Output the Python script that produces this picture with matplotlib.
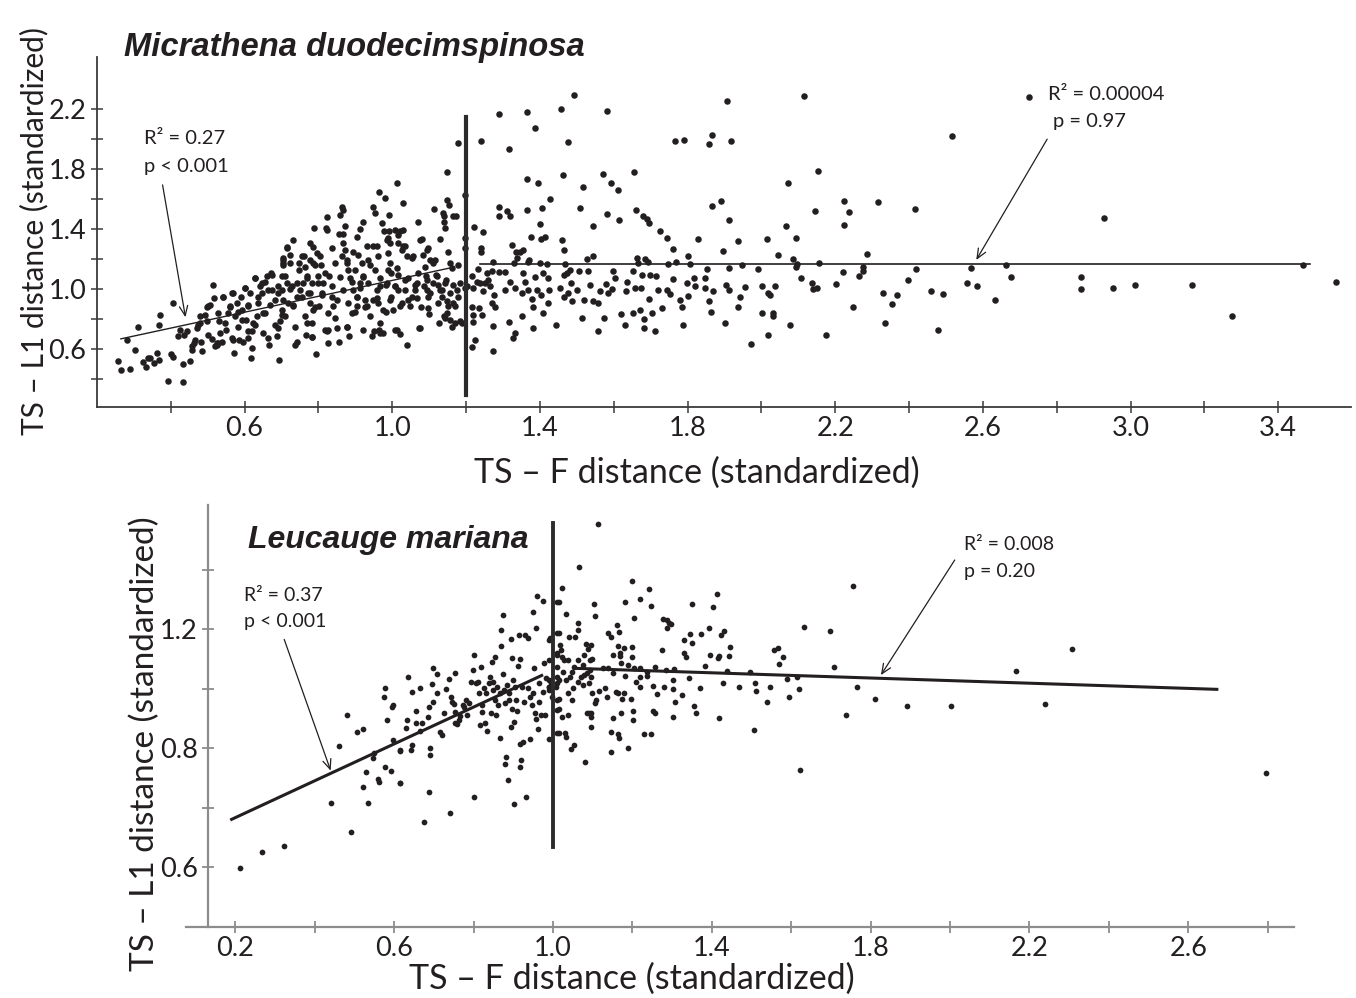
"""
Breakpoint scatter plots: TS-L1 vs TS-F distance (standardized)
for Micrathena duodecimspinosa (top) and Leucauge mariana (bottom).
"""

import numpy as np
import matplotlib
matplotlib.use("Agg")
import matplotlib.pyplot as plt
from matplotlib.ticker import FixedLocator, FixedFormatter

# ─────────────────────────────────────────────────────────────────────────────
# Data
# ─────────────────────────────────────────────────────────────────────────────

# Micrathena, TS-F < 1.2
micr_low = np.array([
    (0.256, 0.518), (0.265, 0.462), (0.291, 0.469), (0.283, 0.658), (0.302, 0.593),
    (0.312, 0.745), (0.324, 0.513), (0.333, 0.478), (0.338, 0.540), (0.344, 0.540),
    (0.356, 0.507), (0.362, 0.573), (0.367, 0.529), (0.371, 0.825), (0.369, 0.762),
    (0.394, 0.389), (0.401, 0.569), (0.405, 0.551), (0.406, 0.911), (0.421, 0.685),
    (0.425, 0.729), (0.432, 0.500), (0.432, 0.380), (0.437, 0.696), (0.443, 0.718),
    (0.453, 0.518), (0.457, 0.596), (0.459, 0.618), (0.462, 0.640), (0.466, 0.662),
    (0.470, 0.740), (0.475, 0.762), (0.479, 0.773), (0.486, 0.585), (0.482, 0.651),
    (0.493, 0.829), (0.498, 0.785), (0.500, 0.696), (0.502, 0.891), (0.507, 0.896),
    (0.513, 0.667), (0.514, 1.029), (0.517, 0.940), (0.520, 0.618), (0.525, 0.629),
    (0.529, 0.640), (0.531, 0.791), (0.534, 0.707), (0.538, 0.651), (0.543, 0.951),
    (0.547, 0.773), (0.550, 0.729), (0.556, 0.840), (0.561, 0.885), (0.565, 0.673),
    (0.567, 0.973), (0.572, 0.573), (0.574, 0.818), (0.579, 0.907), (0.583, 0.751),
    (0.585, 0.662), (0.590, 0.951), (0.592, 0.862), (0.597, 0.651), (0.600, 1.007),
    (0.604, 0.796), (0.609, 0.718), (0.610, 0.885), (0.615, 0.973), (0.617, 0.540),
    (0.619, 0.607), (0.621, 0.718), (0.627, 1.074), (0.628, 0.762), (0.633, 0.818),
    (0.637, 0.907), (0.642, 1.018), (0.647, 0.973), (0.651, 0.840), (0.656, 1.051),
    (0.660, 1.085), (0.663, 0.673), (0.665, 0.629), (0.669, 0.896), (0.674, 1.096),
    (0.675, 0.996), (0.683, 0.762), (0.687, 0.685), (0.690, 0.973), (0.694, 0.525),
    (0.701, 1.085), (0.705, 1.162), (0.705, 1.207),
    (0.737, 0.625), (0.743, 0.647), (0.732, 1.325), (0.716, 1.280), (0.705, 1.196),
    (0.723, 1.174), (0.710, 1.085), (0.701, 0.996), (0.714, 1.040), (0.728, 1.018),
    (0.705, 0.929), (0.719, 0.907), (0.701, 0.862), (0.710, 0.818), (0.696, 0.785),
    (0.732, 0.885), (0.741, 0.951), (0.750, 0.996), (0.759, 1.040), (0.768, 1.085),
    (0.755, 1.222), (0.761, 1.222), (0.748, 1.174), (0.764, 1.151), (0.777, 1.196),
    (0.786, 1.278), (0.789, 1.407), (0.791, 1.162), (0.795, 1.240), (0.804, 1.222),
    (0.806, 1.162), (0.800, 1.085), (0.782, 1.040), (0.773, 0.973), (0.777, 0.907),
    (0.786, 0.862), (0.768, 0.773), (0.766, 0.696), (0.784, 0.773), (0.784, 0.678),
    (0.794, 0.569), (0.803, 0.885), (0.809, 0.973), (0.813, 1.040), (0.821, 1.407),
    (0.824, 1.480), (0.819, 0.729), (0.824, 0.718), (0.827, 0.640), (0.836, 1.273),
    (0.830, 1.085), (0.836, 0.951), (0.840, 0.885), (0.845, 0.807), (0.851, 0.740),
    (0.857, 0.651), (0.859, 1.496), (0.863, 1.547), (0.868, 1.529), (0.857, 1.369),
    (0.868, 1.369), (0.872, 1.422), (0.863, 1.218), (0.872, 1.262), (0.877, 1.174),
    (0.881, 1.129), (0.886, 1.074), (0.877, 0.751), (0.884, 0.685), (0.890, 0.840),
    (0.899, 0.851), (0.904, 0.885), (0.895, 0.996), (0.904, 0.951), (0.913, 1.040),
    (0.893, 1.251), (0.906, 1.229), (0.913, 1.402), (0.922, 1.445), (0.917, 1.174),
    (0.922, 1.085), (0.931, 1.285), (0.935, 1.196), (0.926, 0.929), (0.933, 0.885),
    (0.940, 0.818), (0.944, 0.685), (0.947, 1.551), (0.953, 1.507), (0.958, 1.285),
    (0.962, 1.218), (0.953, 1.129), (0.965, 1.649), (0.967, 1.018), (0.958, 0.940),
    (0.962, 0.907), (0.967, 0.773), (0.951, 0.718), (0.965, 0.729), (0.976, 0.707),
    (0.971, 1.440), (0.980, 1.607), (0.979, 1.391), (0.985, 1.329), (0.991, 1.496),
    (0.992, 1.389), (0.994, 1.307), (0.989, 1.240), (0.994, 1.174), (0.998, 1.107),
    (0.985, 1.040), (0.994, 0.929), (1.003, 0.862), (0.983, 0.851), (1.008, 1.396),
    (1.012, 1.707), (1.017, 1.362), (1.021, 1.385), (1.028, 1.396), (1.017, 1.307),
    (1.026, 1.262), (1.014, 1.140), (1.008, 1.018), (1.017, 0.996), (1.021, 0.885),
    (1.012, 0.729), (1.021, 0.702), (1.030, 1.573), (1.035, 1.285), (1.039, 1.218),
    (1.035, 1.062), (1.044, 0.929), (1.048, 0.885), (1.039, 0.629), (1.053, 1.207),
    (1.057, 1.218), (1.062, 0.996), (1.066, 1.040), (1.071, 1.451), (1.066, 0.940),
    (1.073, 0.740), (1.080, 1.333), (1.084, 1.229), (1.093, 1.262), (1.098, 1.273),
    (1.102, 1.196), (1.089, 1.151), (1.092, 1.085), (1.093, 0.996), (1.098, 0.951),
    (1.098, 0.873), (1.101, 0.836), (1.111, 1.174), (1.114, 1.533), (1.120, 1.085),
    (1.125, 1.029), (1.129, 1.333), (1.129, 0.996), (1.134, 0.951), (1.128, 0.773),
    (1.137, 1.507), (1.139, 1.485), (1.140, 1.451), (1.143, 1.407), (1.148, 1.782),
    (1.149, 1.596), (1.152, 1.251), (1.146, 1.062), (1.148, 0.918), (1.152, 0.885),
    (1.155, 1.562), (1.161, 1.140), (1.139, 0.818), (1.143, 0.807), (1.157, 0.796),
    (1.161, 0.751), (1.166, 0.907), (1.166, 1.485), (1.173, 1.485), (1.170, 0.885),
    (1.175, 0.996), (1.179, 1.162), (1.184, 0.785), (1.179, 1.973),
    (0.479, 0.818), (0.497, 0.884), (0.529, 0.840), (0.543, 0.951), (0.561, 0.884),
    (0.570, 0.973), (0.583, 0.851), (0.592, 0.796), (0.601, 1.007), (0.610, 0.896),
    (0.624, 0.773), (0.628, 1.073), (0.637, 0.951), (0.646, 1.040), (0.655, 0.840),
    (0.664, 0.996), (0.673, 1.107), (0.683, 0.929), (0.692, 1.018), (0.701, 0.829),
    (0.705, 1.173), (0.714, 1.273), (0.723, 1.000), (0.732, 0.896), (0.741, 1.040),
    (0.748, 1.129), (0.755, 0.951), (0.764, 0.818), (0.768, 1.073), (0.777, 0.973),
    (0.786, 1.173), (0.791, 0.884), (0.800, 1.040), (0.809, 0.962), (0.818, 1.107),
    (0.827, 0.840), (0.836, 1.018), (0.845, 1.173), (0.851, 0.929), (0.859, 1.084),
    (0.868, 0.996), (0.877, 1.196), (0.881, 0.907), (0.890, 1.051), (0.899, 1.129),
    (0.904, 0.951), (0.913, 1.007), (0.922, 1.084), (0.926, 0.884), (0.935, 1.040),
    (0.940, 1.162), (0.949, 0.929), (0.958, 0.996), (0.967, 1.073), (0.974, 0.862),
    (0.983, 1.029), (0.989, 1.129), (0.998, 0.951), (1.008, 1.018), (1.017, 1.096),
    (1.026, 0.907), (1.035, 0.996), (1.044, 1.073), (1.053, 0.951), (1.062, 1.029),
    (1.071, 1.107), (1.077, 0.884), (1.086, 1.018), (1.095, 1.062), (1.102, 0.973),
    (1.111, 1.040), (1.119, 1.096), (1.125, 0.907), (1.134, 0.996), (1.143, 1.040),
    (1.148, 0.840), (1.157, 0.973), (1.166, 1.029), (1.170, 0.773), (1.179, 0.951),
    (1.184, 1.040), (1.188, 0.773),
    (0.525, 0.640), (0.570, 0.662), (0.610, 0.673), (0.651, 0.707), (0.692, 0.740),
    (0.737, 0.751), (0.782, 0.684), (0.827, 0.729), (0.877, 0.751), (0.922, 0.729),
    (0.967, 0.707), (1.008, 0.729), (1.075, 0.740),
    (0.723, 1.229), (0.777, 1.307), (0.823, 1.396), (0.868, 1.307), (0.904, 1.351),
    (0.949, 1.285), (0.989, 1.340), (1.030, 1.285), (1.075, 1.329), (1.116, 1.196),
    (1.157, 1.173),
])

# Micrathena, TS-F >= 1.2
micr_high = np.array([
    (1.197, 1.625), (1.197, 1.340), (1.197, 1.273), (1.197, 1.007), (1.202, 1.018),
    (1.215, 0.613), (1.224, 0.658), (1.220, 0.778), (1.215, 0.884), (1.220, 0.829),
    (1.218, 1.007), (1.222, 1.413), (1.215, 1.089), (1.233, 1.133), (1.229, 1.051),
    (1.236, 0.873), (1.242, 0.829), (1.238, 1.044), (1.245, 1.382), (1.241, 1.991),
    (1.241, 1.273), (1.240, 1.251), (1.247, 0.985), (1.251, 1.044), (1.256, 1.107),
    (1.260, 1.062), (1.265, 1.018), (1.269, 1.118), (1.274, 1.178), (1.269, 0.911),
    (1.276, 0.962), (1.278, 0.884), (1.274, 0.756), (1.274, 0.591), (1.288, 2.169),
    (1.288, 1.551), (1.289, 1.485), (1.290, 1.113), (1.306, 1.113), (1.306, 0.996),
    (1.310, 1.518), (1.315, 1.933), (1.319, 1.485), (1.319, 1.051), (1.316, 0.782),
    (1.325, 1.296), (1.326, 0.673), (1.333, 0.707), (1.330, 1.173), (1.335, 1.251),
    (1.333, 1.007), (1.337, 1.207), (1.346, 1.245), (1.351, 0.973), (1.352, 0.822),
    (1.355, 1.262), (1.355, 1.107), (1.360, 1.051), (1.364, 1.529), (1.366, 2.184),
    (1.366, 1.733), (1.369, 1.184), (1.369, 0.996), (1.371, 1.196), (1.376, 1.345),
    (1.378, 0.933), (1.380, 0.884), (1.382, 0.740), (1.386, 2.073), (1.387, 1.084),
    (1.391, 0.996), (1.394, 1.711), (1.399, 1.436), (1.400, 1.173), (1.402, 0.962),
    (1.402, 1.333), (1.407, 1.540), (1.408, 1.107), (1.409, 0.840), (1.414, 1.351),
    (1.418, 1.169), (1.423, 1.073), (1.426, 0.996), (1.427, 1.600), (1.423, 0.907),
    (1.444, 0.758), (1.455, 1.007), (1.456, 2.202), (1.459, 1.329), (1.462, 1.760),
    (1.464, 1.258), (1.465, 1.096), (1.468, 1.169), (1.466, 0.947), (1.473, 1.107),
    (1.477, 1.984), (1.477, 0.973), (1.482, 1.129), (1.483, 1.044), (1.486, 0.918),
    (1.492, 2.293), (1.500, 0.996), (1.507, 1.124), (1.510, 1.544), (1.513, 0.807),
    (1.516, 1.684), (1.519, 0.929), (1.527, 1.200), (1.531, 1.124), (1.536, 1.029),
    (1.543, 1.222), (1.545, 1.418), (1.545, 0.918), (1.558, 0.907), (1.558, 0.722),
    (1.563, 0.991), (1.572, 1.769), (1.574, 0.811), (1.579, 1.036), (1.583, 1.502),
    (1.583, 2.191), (1.585, 0.973), (1.592, 1.711), (1.594, 1.000), (1.599, 1.118),
    (1.604, 1.073), (1.611, 1.658), (1.615, 1.462), (1.620, 0.836), (1.631, 0.762),
    (1.633, 0.991), (1.637, 1.051), (1.651, 1.122), (1.651, 0.844), (1.656, 1.784),
    (1.658, 1.007), (1.660, 1.529), (1.662, 1.207), (1.667, 1.173), (1.671, 0.862),
    (1.673, 1.007), (1.676, 1.096), (1.680, 1.485), (1.682, 0.800), (1.682, 0.740),
    (1.685, 1.200), (1.689, 1.467), (1.694, 1.184), (1.696, 1.444), (1.696, 0.933),
    (1.698, 1.096), (1.703, 0.840), (1.712, 0.722), (1.715, 1.089), (1.721, 0.996),
    (1.725, 1.385), (1.730, 0.873), (1.743, 1.340), (1.743, 0.996), (1.748, 1.169),
    (1.752, 0.969), (1.760, 1.267), (1.760, 1.067), (1.766, 1.991), (1.768, 1.178),
    (1.780, 0.929), (1.786, 0.880), (1.787, 0.758), (1.789, 1.996), (1.798, 1.044),
    (1.800, 0.956), (1.802, 1.222), (1.807, 1.169), (1.817, 1.073), (1.820, 1.022),
    (1.829, 1.336), (1.847, 1.073), (1.847, 1.007), (1.852, 1.133), (1.858, 0.918),
    (1.859, 1.967), (1.864, 0.847), (1.865, 2.029), (1.865, 1.556), (1.868, 0.991),
    (1.891, 1.589), (1.895, 1.256), (1.901, 0.773), (1.904, 1.029), (1.906, 2.256),
    (1.911, 0.996), (1.913, 1.462), (1.913, 1.140), (1.917, 1.989), (1.936, 1.318),
    (1.936, 0.884), (1.942, 0.951), (1.948, 1.162), (1.955, 1.013), (1.972, 0.636),
    (1.992, 1.133), (2.001, 1.018), (2.001, 0.844), (2.014, 1.336), (2.017, 0.973),
    (2.019, 0.696), (2.022, 0.962), (2.031, 0.818), (2.032, 0.840), (2.037, 1.022),
    (2.044, 1.229), (2.066, 1.422), (2.073, 1.711), (2.078, 0.762), (2.085, 1.200),
    (2.094, 1.340), (2.094, 1.147), (2.097, 1.169), (2.106, 1.073), (2.116, 2.291),
    (2.136, 1.040), (2.139, 1.000), (2.145, 1.518), (2.150, 1.007), (2.152, 1.789),
    (2.156, 1.173), (2.174, 0.693), (2.202, 1.036), (2.222, 1.113), (2.224, 1.429),
    (2.225, 1.591), (2.237, 1.513), (2.249, 0.878), (2.264, 1.089), (2.276, 1.118),
    (2.276, 1.151), (2.287, 1.236), (2.317, 1.578), (2.329, 0.973), (2.335, 0.773),
    (2.355, 0.900), (2.366, 0.960),
    (2.725, 2.280), (2.515, 2.018), (2.416, 1.536), (2.928, 1.473), (2.419, 1.136),
    (2.397, 1.062), (2.459, 0.991), (2.493, 0.967), (2.479, 0.727), (2.558, 1.040),
    (2.568, 1.140), (2.585, 1.018), (2.632, 0.925), (2.662, 1.158), (2.675, 1.084),
    (2.865, 1.078), (2.865, 0.998), (2.953, 1.009), (3.012, 1.031), (3.166, 1.027),
    (3.274, 0.822), (3.468, 1.162), (3.556, 1.051),
])

micr_break = 1.2
micr_break_span = [0.295, 2.147]
micr_fit_left_x, micr_fit_left_y = [0.265, 1.167], [0.669, 1.147]
micr_fit_right_x, micr_fit_right_y = [1.239, 3.486], [1.169, 1.169]

# Leucauge, TS-F < 1.0
leuc_low = np.array([
    (0.212, 0.396), (0.268, 0.451), (0.323, 0.473), (0.442, 0.615), (0.460, 0.809),
    (0.482, 0.912), (0.492, 0.520), (0.506, 0.855), (0.522, 0.865), (0.522, 0.669),
    (0.530, 0.720), (0.535, 0.615), (0.547, 0.766), (0.550, 0.783), (0.558, 0.697),
    (0.562, 0.688), (0.574, 0.974), (0.578, 1.002), (0.576, 0.736), (0.582, 0.895),
    (0.594, 0.940), (0.598, 0.946), (0.592, 0.725), (0.596, 0.828), (0.614, 0.791),
    (0.614, 0.684),
    (0.614, 0.794), (0.614, 0.682), (0.630, 0.867), (0.634, 1.039), (0.632, 0.895),
    (0.642, 0.794), (0.644, 0.990), (0.646, 0.811), (0.656, 0.927), (0.656, 0.886),
    (0.664, 1.002), (0.664, 0.859), (0.670, 0.884), (0.674, 0.553), (0.686, 0.906),
    (0.688, 0.938), (0.688, 0.652), (0.690, 0.800), (0.690, 0.778), (0.694, 1.016),
    (0.698, 1.069), (0.698, 0.957), (0.708, 1.050), (0.708, 0.987), (0.716, 0.856),
    (0.720, 0.845), (0.726, 0.917), (0.730, 0.998), (0.738, 1.032), (0.740, 0.581),
    (0.744, 0.974), (0.746, 0.957), (0.750, 0.949), (0.752, 0.886), (0.754, 1.052),
    (0.754, 0.923), (0.758, 0.882), (0.762, 0.895), (0.766, 0.909), (0.773, 0.946),
    (0.777, 0.940), (0.782, 0.962), (0.784, 0.912), (0.789, 0.953), (0.794, 1.024),
    (0.798, 1.063), (0.800, 0.635), (0.802, 1.113), (0.805, 1.018), (0.810, 1.024),
    (0.813, 0.985), (0.818, 1.074), (0.816, 0.878), (0.821, 0.946), (0.822, 0.923),
    (0.826, 1.002), (0.829, 0.884), (0.830, 0.985), (0.834, 0.859), (0.838, 1.018),
    (0.842, 1.039), (0.844, 0.917), (0.846, 1.091), (0.849, 0.996), (0.850, 1.024),
    (0.853, 1.108), (0.854, 0.962), (0.856, 0.912), (0.858, 1.007), (0.861, 0.946),
    (0.866, 0.834), (0.866, 0.985), (0.869, 1.144), (0.870, 1.198), (0.873, 1.248),
    (0.874, 1.050), (0.877, 0.996), (0.878, 0.747), (0.878, 0.951), (0.882, 0.770),
    (0.885, 1.013), (0.886, 0.693), (0.888, 0.962), (0.890, 0.985), (0.893, 1.166),
    (0.894, 0.870), (0.896, 0.931), (0.898, 1.105), (0.900, 1.030), (0.901, 0.613),
    (0.902, 0.890), (0.904, 1.007), (0.906, 0.962), (0.909, 0.927), (0.912, 1.077),
    (0.914, 1.181), (0.917, 1.099), (0.918, 0.736), (0.918, 0.814), (0.920, 0.761),
    (0.922, 1.007), (0.925, 0.822), (0.926, 0.957), (0.930, 1.181), (0.933, 0.635),
    (0.936, 1.170), (0.938, 1.002), (0.941, 0.974), (0.942, 0.830), (0.946, 0.946),
    (0.949, 0.985), (0.950, 1.259), (0.952, 1.069), (0.954, 0.917), (0.957, 0.897),
    (0.958, 1.203), (0.960, 1.312), (0.962, 0.864), (0.964, 1.021), (0.966, 0.957),
    (0.970, 0.912), (0.974, 0.990), (0.976, 1.296), (0.978, 1.086), (0.981, 0.912),
    (0.982, 1.035), (0.989, 1.007), (0.990, 0.830), (0.992, 1.170), (0.994, 1.018),
    (0.997, 0.974), (0.990, 1.164), (0.990, 1.097), (0.990, 1.030), (0.990, 1.007),
    (0.990, 0.996),
])

# Leucauge, TS-F >= 1.0
leuc_high = np.array([
    (1.011, 1.293), (1.011, 1.186), (1.011, 1.119), (1.011, 0.962), (1.011, 0.929),
    (1.011, 0.850),
    (1.113, 1.553), (1.065, 1.411), (1.022, 1.338), (1.014, 1.291), (1.034, 1.251),
    (1.103, 1.284), (1.107, 1.245), (1.198, 1.362), (1.181, 1.293), (1.220, 1.302),
    (1.241, 1.334), (1.248, 1.278), (1.203, 1.237), (1.062, 1.222), (1.062, 1.198),
    (1.056, 1.175), (1.041, 1.175), (1.015, 1.186), (1.017, 1.147), (1.020, 1.130),
    (1.022, 1.108), (1.011, 1.114), (1.028, 1.097), (1.037, 1.097), (1.011, 1.074),
    (1.024, 1.058), (1.011, 1.041), (1.011, 1.018), (1.007, 1.007), (1.015, 1.030),
    (1.032, 1.030), (1.043, 1.041), (1.048, 1.058), (1.054, 1.074), (1.062, 1.097),
    (1.075, 1.080), (1.079, 1.114), (1.083, 1.151), (1.088, 1.133), (1.096, 1.147),
    (1.092, 1.097), (1.099, 1.099), (1.092, 1.063), (1.085, 1.054), (1.096, 1.041),
    (1.062, 1.024), (1.075, 1.013), (1.090, 1.018), (1.071, 1.041), (1.079, 1.046),
    (1.051, 1.002), (1.037, 0.985), (1.048, 0.962), (1.015, 0.966), (1.014, 0.931),
    (1.022, 0.904), (1.037, 0.912), (1.014, 0.850), (1.031, 0.850), (1.032, 0.837),
    (1.045, 0.796), (1.054, 0.811), (1.081, 0.755), (1.085, 0.918), (1.090, 0.918),
    (1.096, 0.920), (1.096, 0.906), (1.096, 0.870), (1.099, 0.987), (1.107, 0.953),
    (1.109, 0.962), (1.116, 0.994), (1.126, 1.069), (1.130, 1.002), (1.135, 0.971),
    (1.139, 1.186), (1.147, 1.175), (1.139, 1.069), (1.150, 1.054), (1.152, 1.114),
    (1.152, 0.901), (1.147, 0.856), (1.145, 0.789), (1.158, 0.990), (1.160, 1.214),
    (1.164, 0.985), (1.164, 0.848), (1.167, 0.834), (1.167, 1.192), (1.164, 1.144),
    (1.169, 1.122), (1.170, 1.110), (1.171, 1.086), (1.173, 0.965), (1.171, 0.920),
    (1.179, 0.987), (1.179, 1.136), (1.181, 1.043), (1.190, 1.080), (1.190, 0.802),
    (1.196, 0.965), (1.201, 0.927), (1.201, 0.895), (1.199, 1.139), (1.200, 1.106),
    (1.203, 1.069), (1.210, 1.024), (1.218, 1.069), (1.220, 1.041), (1.220, 1.007),
    (1.228, 0.847), (1.247, 0.847), (1.237, 1.043), (1.237, 1.058), (1.252, 1.009),
    (1.256, 1.074), (1.258, 0.920), (1.252, 0.927), (1.261, 0.983), (1.278, 1.233),
    (1.288, 1.231), (1.292, 1.220), (1.296, 1.218), (1.286, 1.203), (1.275, 1.130),
    (1.279, 1.007), (1.284, 1.063), (1.303, 1.030), (1.303, 0.998), (1.307, 0.957),
    (1.302, 0.904), (1.305, 1.065), (1.326, 0.979), (1.330, 1.164), (1.335, 1.108),
    (1.329, 1.119), (1.346, 1.184), (1.350, 1.153), (1.351, 1.284), (1.343, 1.035),
    (1.354, 0.942), (1.359, 0.920), (1.373, 1.184), (1.371, 1.002), (1.382, 1.078),
    (1.394, 1.203), (1.395, 1.113), (1.417, 1.110), (1.416, 1.102), (1.402, 1.276),
    (1.414, 1.318), (1.422, 1.181), (1.431, 1.195), (1.417, 0.901), (1.429, 1.018),
    (1.445, 1.141), (1.439, 1.061), (1.443, 1.110),
    (1.468, 1.007), (1.496, 1.055), (1.508, 1.018), (1.511, 0.994), (1.507, 0.861),
    (1.540, 0.957), (1.547, 1.007), (1.557, 1.130), (1.568, 1.138), (1.580, 1.108),
    (1.570, 1.083), (1.590, 1.034), (1.594, 0.971), (1.614, 1.041), (1.620, 0.998),
    (1.622, 0.727), (1.633, 1.209), (1.698, 1.195), (1.709, 1.074), (1.738, 0.912),
    (1.756, 1.346), (1.765, 1.007), (1.810, 0.966), (1.891, 0.943), (2.003, 0.943),
    (2.166, 1.061), (2.239, 0.948), (2.307, 1.133), (2.795, 0.718),
])

leuc_break = 1.0
leuc_break_span = [0.469, 1.557]
leuc_fit_left_x, leuc_fit_left_y = [0.187, 0.975], [0.559, 1.047]
leuc_fit_right_x, leuc_fit_right_y = [1.051, 2.676], [1.069, 0.998]

# tick labels as printed on the lower panel's y axis
leuc_yticks = [0.4, 0.6, 0.8, 1.0, 1.2, 1.4]
leuc_ytick_labels = ["0.6", "", "0.8", "", "1.2", ""]

# ─────────────────────────────────────────────────────────────────────────────
# Figure
# ─────────────────────────────────────────────────────────────────────────────

W, H = 1356, 998
INK = "#231f20"
SANS = ["Lato", "DejaVu Sans"]
plt.rcParams["font.family"] = SANS
ARROW = dict(arrowstyle="->,head_length=0.7,head_width=0.3",
             lw=0.9, color=INK, shrinkA=0, shrinkB=0)


def fig_box(l, t, r, b):
    # pixel box -> figure fraction [left, bottom, width, height]
    return [l / W, 1 - b / H, (r - l) / W, (b - t) / H]


def fig_xy(px, py):
    return px / W, 1 - py / H


fig = plt.figure(figsize=(W / 100, H / 100), dpi=100)

# ── Top panel: Micrathena duodecimspinosa ────────────────────────────────────
ax1 = fig.add_axes(fig_box(97.3, 56.7, 1351, 406.7))
ax1.set_xlim(0.2012, 3.597)
ax1.set_ylim(0.2167, 2.5497)

for pts in (micr_low, micr_high):
    ax1.scatter(pts[:, 0], pts[:, 1], s=22, color=INK, lw=0, zorder=3)

ax1.plot(micr_fit_left_x, micr_fit_left_y, color=INK, lw=1.0, zorder=4)
ax1.plot(micr_fit_right_x, micr_fit_right_y, color=INK, lw=1.2, zorder=4)
ax1.plot([micr_break, micr_break], micr_break_span, color="#2b2b2b", lw=3.0, zorder=5)

ax1.text(0.328, 1.967, "R² = 0.27", fontsize=14.5, color=INK)
ax1.text(0.328, 1.784, "p < 0.001", fontsize=14.5, color=INK)
ax1.annotate("", xy=(0.44, 0.813), xytext=(0.378, 1.695), arrowprops=ARROW)
ax1.text(2.777, 2.262, "R² = 0.00004", fontsize=14.5, color=INK)
ax1.text(2.791, 2.084, "p = 0.97", fontsize=14.5, color=INK)
ax1.annotate("", xy=(2.582, 1.195), xytext=(2.774, 2.0), arrowprops=ARROW)

ax1.xaxis.set_major_locator(FixedLocator([0.6, 1.0, 1.4, 1.8, 2.2, 2.6, 3.0, 3.4]))
ax1.xaxis.set_minor_locator(FixedLocator([0.4, 0.8, 1.2, 1.6, 2.0, 2.4, 2.8, 3.2]))
ax1.yaxis.set_major_locator(FixedLocator([0.6, 1.0, 1.4, 1.8, 2.2]))
ax1.yaxis.set_minor_locator(FixedLocator([0.4, 0.8, 1.2, 1.6, 2.0]))
ax1.xaxis.set_major_formatter(FixedFormatter(["0.6", "1.0", "1.4", "1.8", "2.2", "2.6", "3.0", "3.4"]))
ax1.yaxis.set_major_formatter(FixedFormatter(["0.6", "1.0", "1.4", "1.8", "2.2"]))

for sp in ("top", "right"):
    ax1.spines[sp].set_visible(False)
for sp in ("left", "bottom"):
    ax1.spines[sp].set_color("#3a3a3a")
    ax1.spines[sp].set_linewidth(1.3)
ax1.tick_params(which="both", direction="inout", length=8, width=1.1,
                color="#3a3a3a", labelsize=19.5, labelcolor=INK)
ax1.tick_params(axis="x", which="both", pad=3)
ax1.tick_params(axis="y", which="both", pad=4)

fig.text(*fig_xy(124, 56), "Micrathena duodecimspinosa", fontsize=23.6,
         family="Liberation Sans", weight="bold", style="italic", color=INK,
         ha="left", va="baseline")
fig.text(*fig_xy(34, 231), "TS – L1 distance (standardized)", fontsize=21.5,
         rotation=90, ha="center", va="center", color=INK)
fig.text(*fig_xy(697, 473), "TS – F distance (standardized)", fontsize=24.5,
         ha="center", va="center", color=INK)

# ── Bottom panel: Leucauge mariana ───────────────────────────────────────────
ax2 = fig.add_axes(fig_box(186, 505, 1294, 927.3))
ax2.set_xlim(0.0756, 2.8665)
ax2.set_ylim(0.1983, 1.6178)

for pts in (leuc_low, leuc_high):
    ax2.scatter(pts[:, 0], pts[:, 1], s=17, color=INK, lw=0, zorder=3)

ax2.plot(leuc_fit_left_x, leuc_fit_left_y, color=INK, lw=2.2, zorder=4,
         solid_capstyle="butt")
ax2.plot(leuc_fit_right_x, leuc_fit_right_y, color=INK, lw=2.2, zorder=4,
         solid_capstyle="butt")
ax2.plot([leuc_break, leuc_break], leuc_break_span, color="#2b2b2b", lw=2.8, zorder=5)

ax2.text(0.222, 1.296, "R² = 0.37", fontsize=14, color=INK)
ax2.text(0.222, 1.207, "p < 0.001", fontsize=14, color=INK)
ax2.annotate("", xy=(0.44, 0.725), xytext=(0.323, 1.166), arrowprops=ARROW)
ax2.text(2.036, 1.467, "R² = 0.008", fontsize=14, color=INK)
ax2.text(2.036, 1.377, "p = 0.20", fontsize=14, color=INK)
ax2.annotate("", xy=(1.826, 1.046), xytext=(2.012, 1.433), arrowprops=ARROW)

ax2.xaxis.set_major_locator(FixedLocator([0.2, 0.6, 1.0, 1.4, 1.8, 2.2, 2.6]))
ax2.xaxis.set_minor_locator(FixedLocator([0.4, 0.8, 1.2, 1.6, 2.0, 2.4, 2.8]))
ax2.xaxis.set_major_formatter(FixedFormatter(["0.2", "0.6", "1.0", "1.4", "1.8", "2.2", "2.6"]))
ax2.yaxis.set_major_locator(FixedLocator(leuc_yticks))
ax2.yaxis.set_major_formatter(FixedFormatter(leuc_ytick_labels))

for sp in ("top", "right"):
    ax2.spines[sp].set_visible(False)
for sp in ("left", "bottom"):
    ax2.spines[sp].set_color("#8c8c8c")
    ax2.spines[sp].set_linewidth(1.6)
ax2.spines["left"].set_position(("data", 0.132))
ax2.tick_params(which="both", direction="inout", length=9, width=1.3,
                color="#8c8c8c", labelsize=19.5, labelcolor=INK)
ax2.tick_params(axis="x", which="both", pad=2)
ax2.tick_params(axis="y", which="both", pad=3)

fig.text(*fig_xy(248, 548), "Leucauge mariana", fontsize=23,
         family="Liberation Sans", weight="bold", style="italic", color=INK,
         ha="left", va="baseline")
fig.text(*fig_xy(145, 744), "TS – L1 distance (standardized)", fontsize=24,
         rotation=90, ha="center", va="center", color=INK)
fig.text(*fig_xy(632, 979), "TS – F distance (standardized)", fontsize=24.5,
         ha="center", va="center", color=INK)

fig.savefig("out.png", dpi=100, facecolor="white")
